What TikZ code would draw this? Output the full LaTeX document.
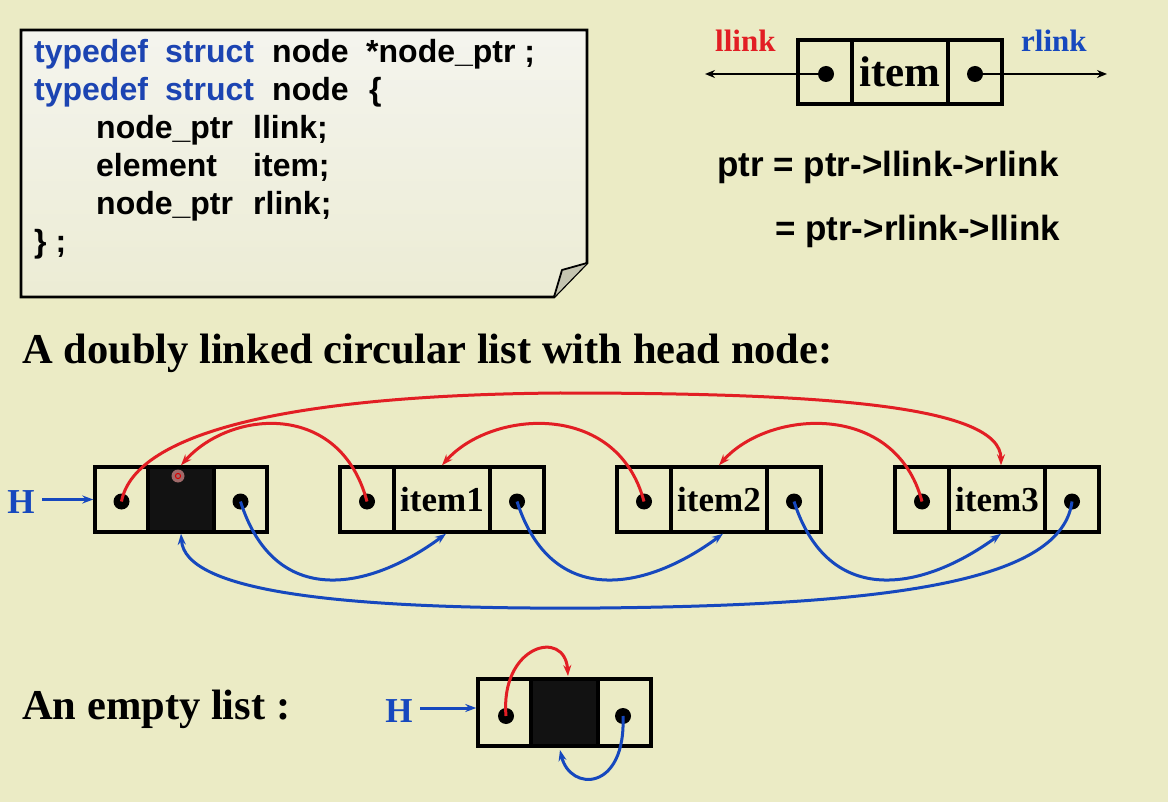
\documentclass[tikz,border=0pt]{standalone}
\usepackage{fontspec}
\setmainfont{Liberation Serif}
\newfontfamily\arial{Liberation Sans}
\usetikzlibrary{arrows.meta}
\definecolor{bg}{RGB}{235,235,197}
\definecolor{lred}{RGB}{226,30,36}
\definecolor{lblue}{RGB}{22,72,190}
\definecolor{cblue}{RGB}{28,68,178}
\definecolor{boxtop}{RGB}{244,244,238}
\definecolor{boxbot}{RGB}{236,236,212}
\definecolor{flap}{RGB}{196,196,176}
\tikzset{
  cell/.style={draw=black, line width=3.4pt, minimum height=65pt, inner sep=0pt,
    font=\bfseries\fontsize{35}{40}\selectfont},
  redarr/.style={draw=lred, line width=3pt, -{Stealth[length=11pt,width=8pt]}},
  bluearr/.style={draw=lblue, line width=3pt, -{Stealth[length=11pt,width=8pt]}},
  code/.style={anchor=base west, inner sep=0pt, font=\arial\bfseries\fontsize{32}{38}\selectfont},
  formula/.style={anchor=base west, inner sep=0pt, font=\arial\bfseries\fontsize{35}{42}\selectfont},
  title/.style={anchor=base west, inner sep=0pt, font=\bfseries\fontsize{42.5}{50}\selectfont},
  hlabel/.style={anchor=base, inner sep=0pt, text=lblue, font=\bfseries\fontsize{35}{40}\selectfont},
}
\begin{document}
\begin{tikzpicture}[x=1pt,y=-1pt]
\fill[bg] (0,0) rectangle (1168,802);
\useasboundingbox (0,0) rectangle (1168,802);

% code box
\fill[top color=boxtop, bottom color=boxbot] (21,30) -- (587,30) -- (587,263) -- (554,297) -- (21,297) -- cycle;
\draw[line width=2.6pt, line join=miter] (21,30) -- (587,30) -- (587,263) -- (554,297) -- (21,297) -- cycle;
\filldraw[fill=flap, draw=black, line width=1.8pt, line join=round] (554,297) -- (562,270) -- (587,263);

\node[code, text=cblue] (c1a) at (34,63) {typedef};
\node[code, text=cblue] (c1b) at (165,63) {struct};
\node[code] (c1c) at (272,63) {node};
\node[code] (c1d) at (366,63) {*node\_ptr ;};
\node[code, text=cblue] (c2a) at (34,101) {typedef};
\node[code, text=cblue] (c2b) at (165,101) {struct};
\node[code] (c2c) at (272,101) {node};
\node[code] (c2d) at (369,101) {\{};
\node[code] (c3a) at (96,139) {node\_ptr};
\node[code] (c3b) at (253,139) {llink;};
\node[code] (c4a) at (96,177) {element};
\node[code] (c4b) at (253,177) {item;};
\node[code] (c5a) at (96,215) {node\_ptr};
\node[code] (c5b) at (253,215) {rlink;};
\node[code] (c6a) at (34,253) {\} ;};

% top-right node
\node[cell, minimum width=54pt, minimum height=64pt] (tl) at (825,72) {};
\node[cell, minimum width=96pt, minimum height=64pt, font=\bfseries\fontsize{43}{48}\selectfont] (tm) at (900,72) {item};
\node[cell, minimum width=54pt, minimum height=64pt] (tr) at (975,72) {};
\coordinate (lend) at (705,74);
\coordinate (rend) at (1107,74);
\draw[line width=2.8pt, -{Stealth[length=10pt,width=8pt]}] (tl.center) ++(1,2) -- (lend);
\draw[line width=2.8pt, -{Stealth[length=10pt,width=8pt]}] (tr.center) ++(0,2) -- (rend);
\fill (826,74) circle (8);
\fill (975,74) circle (8);
\node[anchor=base west, inner sep=0pt, text=lred, font=\bfseries\fontsize{31}{36}\selectfont] (ll) at (715,52) {llink};
\node[anchor=base west, inner sep=0pt, text=lblue, font=\bfseries\fontsize{31}{36}\selectfont] (rl) at (1021,52) {rlink};

\node[formula] (f1) at (717,177) {ptr = ptr->llink->rlink};
\node[formula] (f2) at (775,241) {= ptr->rlink->llink};

% title
\node[title] (t1) at (22,364) {A doubly linked circular list with head node:};

% list nodes
\node[cell, minimum width=53pt] (hl) at (121.5,499.5) {};
\node[cell, minimum width=66pt, fill=black!93] (hm) at (181,499.5) {};
\node[cell, minimum width=53pt] (hr) at (240.5,499.5) {};

\node[cell, minimum width=54pt] (n1l) at (367,499.5) {};
\node[cell, minimum width=96pt] (n1m) at (442,499.5) {item1};
\node[cell, minimum width=54pt] (n1r) at (517,499.5) {};

\node[cell, minimum width=54pt] (n2l) at (644,499.5) {};
\node[cell, minimum width=96pt] (n2m) at (719,499.5) {item2};
\node[cell, minimum width=54pt] (n2r) at (794,499.5) {};

\node[cell, minimum width=54pt] (n3l) at (922,499.5) {};
\node[cell, minimum width=96pt] (n3m) at (997,499.5) {item3};
\node[cell, minimum width=54pt] (n3r) at (1072,499.5) {};

\foreach \c in {hl,hr,n1l,n1r,n2l,n2r,n3l,n3r} \fill (\c.center) ++(0,2) circle (8);

% laser pointer mark
\fill[red!35, opacity=0.6] (178,476) circle (6.5);
\draw[red!85!black, line width=1pt] (178,476) circle (2.6);

% H
\node[hlabel] (H1) at (21,513) {H};
\coordinate (h1s) at (42,499.5);
\draw[line width=3pt, draw=lblue, -{Stealth[length=11pt,width=8pt]}] (h1s) -- (hl.west);

% red llinks
\coordinate (rtop) at (560,393);
\draw[redarr] ([yshift=-2pt]hl.center) .. controls (135,430) and (300,395) .. (rtop) .. controls (820,393) and (1001,405) .. ([xshift=4pt]n3m.north);
\draw[redarr] ([yshift=-2pt]n1l.center) .. controls (340,400) and (230,410) .. (hm.north);
\draw[redarr] ([yshift=-2pt]n2l.center) .. controls (617,400) and (491,410) .. (n1m.north);
\draw[redarr] ([yshift=-2pt]n3l.center) .. controls (895,400) and (768,410) .. (n2m.north);

% blue rlinks
\draw[bluearr] ([yshift=-2pt]hr.center) .. controls (275,610) and (370,590) .. ([xshift=4pt]n1m.south);
\draw[bluearr] ([yshift=-2pt]n1r.center) .. controls (552,610) and (647,590) .. ([xshift=4pt]n2m.south);
\draw[bluearr] ([yshift=-2pt]n2r.center) .. controls (829,610) and (924,590) .. ([xshift=4pt]n3m.south);
\coordinate (bbot) at (600,608);
\draw[bluearr] ([yshift=-2pt]n3r.center) .. controls (1062,580) and (900,605) .. (bbot) .. controls (330,610) and (185,590) .. (hm.south);

% empty list
\node[title] (t2) at (22,719) {An empty list :};
\node[hlabel] (H2) at (399,722) {H};
\coordinate (h2s) at (420,708);
\node[cell, minimum width=53pt, minimum height=67pt] (el) at (504.5,712.5) {};
\node[cell, minimum width=67pt, minimum height=67pt, fill=black!93] (em) at (564.5,712.5) {};
\node[cell, minimum width=53pt, minimum height=67pt] (er) at (624.5,712.5) {};
\draw[line width=3pt, draw=lblue, -{Stealth[length=11pt,width=8pt]}] (h2s) -- (el.west |- h2s);
\fill (506,716) circle (8);
\fill (623,716) circle (8);
\coordinate (e1) at (568,676);
\coordinate (e2) at (560,750);
\draw[redarr] (506,716) .. controls (500,645) and (565,628) .. (e1);
\draw[bluearr] (623,716) .. controls (626,792) and (570,792) .. (e2);
\end{tikzpicture}
\end{document}
